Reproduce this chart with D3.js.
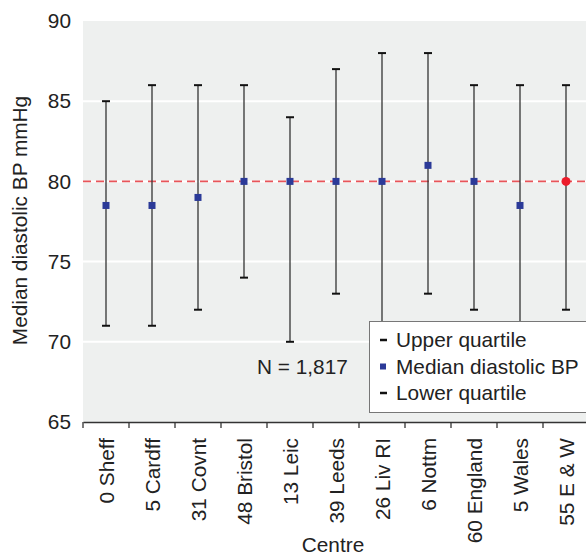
<!DOCTYPE html>
<html>
<head>
<meta charset="utf-8">
<script src="https://cdn.jsdelivr.net/npm/d3@7"></script>
<style>
  html, body { margin: 0; padding: 0; background: #fff; }
  svg { display: block; font-family: "Liberation Sans", Arial, sans-serif; }
</style>
</head>
<body>
<svg id="chart" width="586" height="557"></svg>
<script>
// Centres and their diastolic BP quartiles (mmHg)
const centres = ["0 Sheff", "5 Cardff", "31 Covnt", "48 Bristol", "13 Leic", "39 Leeds",
                 "26 Liv RI", "6 Nottm", "60 England", "5 Wales", "55 E & W"];
const medianBP = [78.5, 78.5, 79, 80, 80, 80, 80, 81, 80, 78.5, 80];
const upperQ   = [85, 86, 86, 86, 84, 87, 88, 88, 86, 86, 86];
const lowerQ   = [71, 71, 72, 74, 70, 73, 70, 73, 72, 70, 72];
const yTicks   = [65, 70, 75, 80, 85, 90];
const gridLines = [70, 75, 80, 85];
const referenceBP = 80;
const nLabel = "N = 1,817";
const legendItems = ["Upper quartile", "Median diastolic BP", "Lower quartile"];

const FS = 20.8;
const svg = d3.select("#chart");
const margin = { left: 83, top: 21, right: -3, bottom: 135 };
const W = 586, H = 557;
const plotW = W - margin.left - margin.right;
const plotH = H - margin.top - margin.bottom;

const x = d3.scaleBand().domain(centres).range([0, plotW]).padding(0);
const y = d3.scaleLinear().domain([65, 90]).range([plotH, 0]);

const g = svg.append("g").attr("transform", `translate(${margin.left},${margin.top})`);

// plot background
g.append("rect").attr("x", 0).attr("y", 0).attr("width", plotW).attr("height", plotH)
  .attr("fill", "#eef0ef");

// white horizontal gridlines
g.selectAll(".grid").data(gridLines).enter().append("line")
  .attr("x1", 0).attr("x2", plotW)
  .attr("y1", d => y(d)).attr("y2", d => y(d))
  .attr("stroke", "#fff").attr("stroke-width", 2);

// reference line at 80 mmHg
g.append("line")
  .attr("x1", 0).attr("x2", plotW)
  .attr("y1", y(referenceBP)).attr("y2", y(referenceBP))
  .attr("stroke", "#e8555a").attr("stroke-width", 1.6)
  .attr("stroke-dasharray", "8,5");

// interquartile whiskers
const cx = d => x(d) + x.bandwidth() / 2;
const rows = centres.map((c, i) => ({ c, med: medianBP[i], up: upperQ[i], lo: lowerQ[i], i }));

g.selectAll(".whisker").data(rows).enter().append("line")
  .attr("x1", d => cx(d.c)).attr("x2", d => cx(d.c))
  .attr("y1", d => y(d.up)).attr("y2", d => y(d.lo))
  .attr("stroke", "#333").attr("stroke-width", 1.3);

["up", "lo"].forEach(k => {
  g.selectAll(".cap-" + k).data(rows).enter().append("line")
    .attr("x1", d => cx(d.c) - 4).attr("x2", d => cx(d.c) + 4)
    .attr("y1", d => y(d[k])).attr("y2", d => y(d[k]))
    .attr("stroke", "#111").attr("stroke-width", 2);
});

// medians: blue squares for centres, red dot for the England & Wales total
const last = centres.length - 1;
g.selectAll(".med").data(rows.filter(d => d.i !== last)).enter().append("rect")
  .attr("x", d => cx(d.c) - 3.5).attr("y", d => y(d.med) - 3.5)
  .attr("width", 7).attr("height", 7)
  .attr("fill", "#2b3a98");
g.selectAll(".medTot").data(rows.filter(d => d.i === last)).enter().append("circle")
  .attr("cx", d => cx(d.c)).attr("cy", d => y(d.med)).attr("r", 4.5)
  .attr("fill", "#ec1c2a");

// x axis
const xAxis = g.append("g").attr("transform", `translate(0,${plotH})`)
  .call(d3.axisBottom(x).tickSize(0).tickFormat(""));
xAxis.select(".domain").attr("stroke", "#333").attr("stroke-width", 1.3);
xAxis.selectAll(".edge").data(d3.range(centres.length)).enter().append("line")
  .attr("x1", i => x(centres[i])).attr("x2", i => x(centres[i]))
  .attr("y1", 0).attr("y2", 6).attr("stroke", "#333").attr("stroke-width", 1.3);

g.selectAll(".xlab").data(centres).enter().append("text")
  .attr("transform", d => `translate(${cx(d) + 7.5},${plotH + 16}) rotate(-90)`)
  .attr("text-anchor", "end")
  .attr("font-size", FS).attr("fill", "#222")
  .text(d => d);

// y axis labels
const yAxis = g.append("g").call(d3.axisLeft(y).tickValues(yTicks).tickSize(0).tickPadding(12));
yAxis.select(".domain").remove();
yAxis.selectAll("text").attr("font-size", FS).attr("fill", "#222")
  .attr("font-family", "Liberation Sans, Arial, sans-serif");

// axis titles
svg.append("text")
  .attr("transform", `translate(27,${margin.top + plotH / 2 - 1}) rotate(-90)`)
  .attr("text-anchor", "middle").attr("font-size", FS).attr("fill", "#222")
  .text("Median diastolic BP mmHg");
svg.append("text")
  .attr("x", 333).attr("y", 552)
  .attr("text-anchor", "middle").attr("font-size", FS).attr("fill", "#222")
  .text("Centre");

// sample size note
g.append("text")
  .attr("x", 257 - margin.left).attr("y", 374 - margin.top)
  .attr("font-size", FS).attr("fill", "#222")
  .text(nLabel);

// legend
const lg = svg.append("g").attr("transform", "translate(369,321)");
lg.append("rect").attr("x", 0.5).attr("y", 0.5).attr("width", 230).attr("height", 91)
  .attr("fill", "#fff").attr("stroke", "#777").attr("stroke-width", 1);
legendItems.forEach((t, i) => {
  const yy = 19 + i * 26.5;
  if (i === 1) {
    lg.append("rect").attr("x", 11).attr("y", yy - 3).attr("width", 6).attr("height", 6).attr("fill", "#2b3a98");
  } else {
    lg.append("line").attr("x1", 11).attr("x2", 18).attr("y1", yy).attr("y2", yy)
      .attr("stroke", "#111").attr("stroke-width", 2.5);
  }
  lg.append("text").attr("x", 27).attr("y", yy + 7)
    .attr("font-size", FS).attr("fill", "#222").text(t);
});
</script>
</body>
</html>
